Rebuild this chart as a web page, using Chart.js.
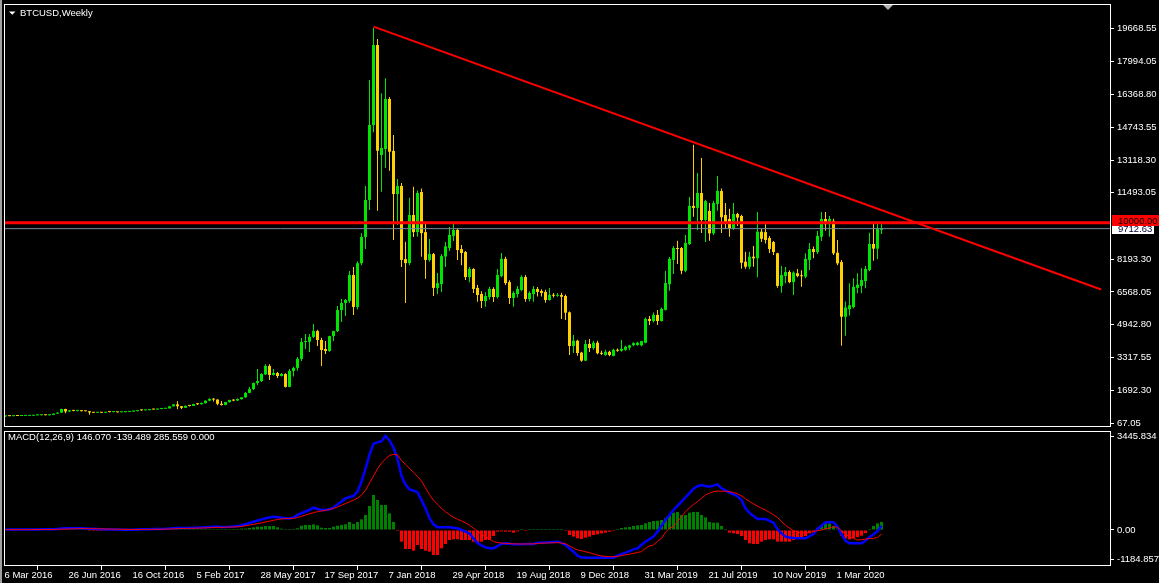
<!DOCTYPE html>
<html>
<head>
<meta charset="utf-8">
<title>BTCUSD,Weekly</title>
<script src="https://cdn.jsdelivr.net/npm/chart.js@4.4.0/dist/chart.umd.min.js"></script>
<style>
  html, body { margin: 0; padding: 0; background: #000; }
  #wrap { position: relative; width: 1159px; height: 583px; overflow: hidden; background: #000; }
  #frame { position: absolute; left: 0; top: 0; width: 2px; height: 583px; background: #a0a0a0; }
  #price { position: absolute; left: 0; top: 0; }
  #macd { position: absolute; left: 0; top: 429px; }
</style>
</head>
<body>
<div id="wrap">
  <div id="frame"></div>
  <canvas id="price" width="1159" height="429"></canvas>
  <canvas id="macd" width="1159" height="154"></canvas>
</div>
<script>
// weekly BTCUSD candles, first bar = week of 6 Mar 2016
const opens = [
  398,412,408,416,414,420,422,428,450,455, 460,452,470,530,580,760,640,695,670,680,
  655,650,590,575,580,575,610,608,610,600, 608,617,640,655,700,695,705,740,735,765,
  775,790,895,990,900,820,920,915,1010,1000, 1050,1175,1260,1230,1020,960,1100,1210,1180,1250,
  1340,1560,1750,2050,2150,2480,2900,2450,2550,2400, 2500,1860,2650,2800,3250,4085,4100,4340,4630,4185,
  3740,3640,4380,4630,5675,6020,6120,7413,5824,7998, 9300,11135,14856,18826,13366,13665,16147,13570,11430,11830,
  8200,8000,10390,9540,11530,9540,8160,8450,6770,6960, 8330,8750,9350,9650,8700,8550,7310,7710,6770,6470,
  6120,6320,6720,6320,7360,8210,7060,6270,6470,6670, 7310,6220,6470,6720,6620,6570,6170,6420,6380,6420,
  6370,5560,3890,4150,3560,3160,3990,3790,4050,3550, 3440,3600,3400,3700,3650,3700,3800,3930,3940,3920,
  4050,5230,5130,5430,5130,5680,6960,8160,8750,8750, 7620,8950,10840,10740,11480,10140,10590,9480,10940,11580,
  10390,10190,9740,10440,10340,8070,7820,8320,8240,9560, 9540,9250,9050,8490,6870,7360,7560,7060,7500,7400,
  7330,8160,8700,8550,9310,10190,9930,10100,8520,8060, 5340,5710,5820,6770,6870,7110,7660,8950,8720,9650
];
const highs = [
  420,422,420,425,425,428,432,455,468,465, 465,480,540,600,780,775,700,705,690,690,
  665,660,600,595,590,615,625,612,612,612, 620,645,660,705,720,715,750,755,770,780,
  795,900,1000,1150,910,930,930,1020,1050,1080, 1190,1300,1290,1250,1160,1120,1220,1240,1280,1350,
  1600,1870,2080,2750,2530,2980,2980,2750,2600,2550, 2540,2750,2860,3340,4285,4480,4480,4980,4700,4300,
  4140,4400,4650,5874,6220,6220,7610,7810,8100,9480, 11830,17090,19668.55,19125,16430,17170,16250,14360,12180,11980,
  9066,11250,11790,11600,11710,9940,9200,8500,7510,8450, 9050,9790,9990,9750,8900,8600,7810,7750,6920,6600,
  6550,6830,6800,7710,8500,8320,7150,6600,6870,7400, 7410,6600,6870,6820,6700,6680,6770,6520,6520,6530,
  6450,5600,4430,4200,3600,4190,4240,4150,4150,3650, 3700,3650,3750,3760,4190,3900,3950,4080,4100,4150,
  5300,5380,5550,5680,5800,7620,8300,8850,9110,8800, 9400,11280,13870,12470,13220,11150,10980,11100,12330,11700,
  10980,10700,10980,10500,10400,8570,8570,8850,10540,9700, 9930,9350,9100,8520,7860,7810,7650,7600,7710,7650,
  8490,9000,8820,9600,10540,10540,10340,10200,9150,8150, 6100,7000,7250,7500,7750,7860,9510,10000,10000,9980
];
const lows = [
  382,405,400,410,412,415,418,425,445,440, 448,435,460,520,575,550,620,645,640,640,
  645,480,560,565,565,570,600,600,590,595, 605,612,630,650,680,690,700,720,730,755,
  770,785,885,750,760,815,880,910,960,980, 1040,1150,1140,950,940,950,1080,1150,1160,1230,
  1320,1540,1700,1950,2100,2450,2200,2420,2300,2380, 1830,1840,2370,2660,3140,3740,3590,4285,3890,2900,
  3490,3600,4140,4583,5080,5380,6020,5425,5700,7900, 8700,10640,14500,10600,11540,12720,12590,9150,9890,7810,
  6020,7900,9300,9310,8320,7230,8070,6370,6470,6570, 7810,8600,9100,8160,7900,7160,7050,6520,6090,5770,
  5840,6200,6070,6250,7300,6920,5970,5840,6300,6600, 6090,6100,6090,6340,6340,6040,6140,6300,6330,5230,
  5180,3440,3540,3400,3110,3150,3590,3700,3480,3440, 3400,3380,3380,3600,3600,3650,3680,3880,3900,3880,
  4020,4930,5050,4930,5100,5650,6630,7460,7960,7450, 7550,8900,10300,9640,9490,9050,9110,9400,10600,9490,
  9700,9310,9650,9840,7720,7720,7700,7820,7300,9050, 8980,8500,8400,6780,6530,7000,7000,6420,7300,6830,
  7250,7660,8240,8450,9100,9610,9310,8400,7900,3900, 4400,5400,5750,6500,6500,6750,7600,8120,8190,9450
];
const closes = [
  412,408,416,414,420,422,428,450,455,460, 452,470,530,580,760,640,695,670,680,655,
  650,590,575,580,575,610,608,610,600,608, 617,640,655,700,695,705,740,735,765,775,
  790,895,990,900,820,920,915,1010,1000,1060, 1175,1260,1230,1020,960,1110,1210,1180,1260,1340,
  1560,1750,2050,2150,2500,2900,2450,2550,2400,2500, 1860,2650,2800,3250,4085,4100,4340,4630,4185,3690,
  3640,4380,4630,5675,6020,6170,7413,5824,7998,9300, 11135,14856,18826,13580,13715,16147,13530,11430,11830,8160,
  8000,10390,9540,11480,9490,8160,8450,6770,7010,8350, 8830,9400,9650,8650,8500,7310,7710,6720,6420,6120,
  6370,6720,6320,7410,8210,7010,6270,6520,6720,7310, 6220,6520,6720,6570,6520,6170,6420,6380,6420,6330,
  5540,3890,4150,3540,3160,3990,3790,4050,3530,3500, 3600,3440,3700,3650,3750,3850,3920,4030,4050,4130,
  5230,5130,5430,5130,5730,7010,8210,8750,8700,7620, 9000,10840,10740,11480,10140,11080,9480,10980,11580,10280,
  9980,9740,10440,10260,8020,7820,8320,8240,9560,9210, 9150,8700,8550,6870,7410,7560,7060,7530,7360,7350,
  8210,8700,8550,9350,10190,9930,10190,8490,7990,5340, 5800,5910,6820,6930,7160,7710,8950,8720,9730,9712.63
];

// MACD(12,26,9): main line, signal line, histogram
const macdMain = [
  15,15,14,14,14,14,15,17,20,22, 22,24,30,38,55,60,62,62,61,58,
  55,48,40,33,27,24,20,17,14,11, 10,11,13,17,22,25,29,32,35,38,
  41,50,65,70,68,70,72,78,82,88, 96,105,112,110,105,108,112,120,140,170,
  205,245,290,335,370,410,440,465,450,430, 410,405,440,520,590,650,705,785,740,705,
  700,730,780,900,1000,1110,1160,1200,1350,1700, 2150,2650,3030,3080,3120,3305,3150,2900,2500,1900,
  1600,1430,1380,1330,1050,760,420,200,100,95, 95,94,80,60,0,-60,-120,-300,-460,-540,
  -610,-640,-640,-570,-480,-470,-480,-500,-500,-500, -495,-495,-492,-450,-445,-440,-430,-420,-410,-450,
  -527,-650,-762,-900,-961,-973,-973,-973,-973,-973, -973,-973,-973,-902,-850,-797,-740,-680,-645,-520,
  -410,-320,-234,-59,150,352,530,703,850,996, 1150,1300,1450,1540,1582,1550,1523,1560,1606,1465,
  1390,1312,1250,1180,1050,762,600,492,387,387, 387,320,258,23,-120,-234,-260,-280,-293,-293,
  -293,-220,-141,35,150,270,270,270,117,-150, -380,-469,-469,-469,-469,-380,-255,-150,-40,146.07
];
const macdSignal = [
  12,13,13,13,13,13,14,14,15,16, 17,18,20,23,28,33,38,42,46,48,
  50,49,47,44,41,37,34,30,27,24, 21,19,18,18,19,20,22,24,26,29,
  31,35,41,47,51,55,58,62,66,70, 75,81,87,92,95,98,101,104,110,125,
  150,175,200,225,250,280,310,340,370,390, 400,405,410,440,480,527,570,610,645,670,
  690,720,760,810,870,930,990,1050,1120,1230, 1400,1650,1900,2150,2350,2500,2620,2660,2640,2450,
  2300,2168,2020,1880,1720,1480,1240,1050,900,760, 640,540,440,380,320,250,170,60,-40,-150,
  -234,-320,-410,-440,-460,-469,-478,-485,-490,-492, -492,-490,-485,-475,-465,-458,-452,-448,-445,-460,
  -480,-560,-640,-700,-730,-762,-800,-840,-880,-914, -925,-938,-938,-930,-900,-870,-850,-820,-790,-762,
  -650,-560,-527,-400,-293,-80,60,117,300,469, 650,780,900,1000,1113,1230,1300,1348,1371,1360,
  1365,1350,1320,1270,1200,1100,1000,920,840,760, 700,620,540,440,300,170,60,-20,-70,-100,
  -110,-90,-60,-20,0,40,70,117,90,-20, -150,-234,-290,-352,-340,-320,-300,-293,-264,-139.489
];
const macdHist = [
  3,2,1,1,1,1,1,3,5,6, 5,6,10,15,27,27,24,20,15,10,
  5,-1,-7,-11,-14,-13,-14,-13,-13,-13, -11,-8,-5,-1,3,5,7,8,9,9,
  10,15,24,23,17,15,14,16,16,18, 21,24,25,18,10,10,11,16,30,50,
  50,70,94,117,117,141,141,141,94,47, 23,23,23,59,152,176,176,199,164,82,
  70,70,117,152,176,199,281,211,281,375, 527,844,1231,1055,879,879,586,281,-20,-410,
  -668,-668,-727,-527,-668,-727,-762,-879,-879,-645, -492,-352,-328,-328,-352,-352,-352,-410,-469,-410,
  -352,-352,-211,-59,-47,-59,-59,-94,-47,10, -20,15,20,25,20,20,20,15,15,10,
  -35,-176,-234,-293,-316,-270,-234,-176,-152,-117, -94,-59,-35,35,70,94,105,141,164,176,
  234,281,316,328,352,410,516,609,633,527, 527,609,633,633,527,445,281,258,258,141,
  23,-94,-117,-141,-211,-352,-469,-492,-492,-410, -352,-328,-328,-410,-410,-410,-410,-352,-305,-305,
  -211,-117,-59,70,176,234,234,141,47,-200, -300,-330,-290,-250,-200,-110,35,141,234,285.559
];

const priceTicks = [67.05, 1692.30, 3317.55, 4942.80, 6568.05, 8193.30, 11493.05, 13118.30, 14743.55, 16368.80, 17994.05, 19668.55];
const macdTickValues = [3305, 0, -1020];
const macdTickText = ['3445.834', '0.00', '-1184.857'];
const dateTickIdx = [0, 16, 32, 48, 64, 80, 96, 112, 128, 144, 160, 176, 192, 208];
const dateLabels = ['6 Mar 2016', '26 Jun 2016', '16 Oct 2016', '5 Feb 2017', '28 May 2017', '17 Sep 2017',
  '7 Jan 2018', '29 Apr 2018', '19 Aug 2018', '9 Dec 2018', '31 Mar 2019', '21 Jul 2019', '10 Nov 2019', '1 Mar 2020'];

const levelPrice = 10000;
const bidPrice = 9712.63;
const trendX = [92, 273.9];
const trendY = [19740, 6690];

const chartTitle = 'BTCUSD,Weekly';
const macdTitle = 'MACD(12,26,9) 146.070 -139.489 285.559 0.000';

const upColor = '#00e600';
const downColor = '#ffd000';
const fontFamily = "'Liberation Sans', Arial, sans-serif";

Chart.defaults.font.family = fontFamily;
Chart.defaults.font.size = 9.5;
Chart.defaults.color = '#ffffff';

const xMin = -0.375, xMax = 276.125;

const candleColor = ctx => closes[ctx.dataIndex] >= opens[ctx.dataIndex] ? upColor : downColor;

const panelFrame = {
  id: 'panelFrame',
  afterDraw(chart) {
    const { ctx, chartArea: a } = chart;
    ctx.save();
    ctx.strokeStyle = '#ffffff';
    ctx.lineWidth = 1;
    ctx.strokeRect(a.left + 0.5, a.top + 0.5, a.right - a.left, a.bottom - a.top - 1);
    ctx.restore();
  }
};

const priceDecor = {
  id: 'priceDecor',
  afterDraw(chart) {
    const ctx = chart.ctx;
    const y = chart.scales.y;
    ctx.save();
    ctx.font = '9.5px ' + fontFamily;
    ctx.textBaseline = 'middle';
    // title
    ctx.fillStyle = '#ffffff';
    ctx.beginPath();
    ctx.moveTo(9, 11.5); ctx.lineTo(15.5, 11.5); ctx.lineTo(12.25, 14.75);
    ctx.closePath(); ctx.fill();
    ctx.fillText(chartTitle, 20, 13);
    // chart shift marker
    ctx.fillStyle = '#b4b4b4';
    ctx.beginPath();
    ctx.moveTo(883, 5); ctx.lineTo(893, 5); ctx.lineTo(888, 10);
    ctx.closePath(); ctx.fill();
    // bid label
    const bidY = Math.round(y.getPixelForValue(bidPrice));
    ctx.fillStyle = '#ffffff';
    ctx.fillRect(1112, bidY - 5, 42, 10);
    ctx.fillStyle = '#000033';
    ctx.fillText(bidPrice.toFixed(2), 1118, bidY + 0.5);
    // level label
    const lvY = Math.round(y.getPixelForValue(levelPrice));
    ctx.fillStyle = '#ff0000';
    ctx.fillRect(1112, lvY - 8, 47, 11);
    ctx.fillStyle = '#000000';
    ctx.fillText(levelPrice.toFixed(2), 1118, lvY - 2);
    ctx.restore();
  }
};

const macdDecor = {
  id: 'macdDecor',
  afterDraw(chart) {
    const ctx = chart.ctx;
    ctx.save();
    ctx.font = '9.5px ' + fontFamily;
    ctx.textBaseline = 'middle';
    ctx.fillStyle = '#ffffff';
    ctx.fillText(macdTitle, 8, 8.5);
    ctx.restore();
  }
};

const priceConfig = {
  type: 'bar',
  data: {
    datasets: [
      {
        type: 'line',
        data: [{ x: xMin, y: levelPrice }, { x: xMax, y: levelPrice }],
        borderColor: '#ff0000', borderWidth: 3, pointRadius: 0, order: 0
      },
      {
        type: 'line',
        data: trendX.map((x, i) => ({ x: x, y: trendY[i] })),
        borderColor: '#ff0000', borderWidth: 2, pointRadius: 0, order: 0
      },
      {
        type: 'line',
        data: [{ x: xMin, y: bidPrice }, { x: xMax, y: bidPrice }],
        borderColor: '#778899', borderWidth: 1, pointRadius: 0, order: 1
      },
      {
        data: opens.map((o, i) => ({ x: i, y: [o, closes[i]] })),
        backgroundColor: candleColor,
        barThickness: 3, minBarLength: 1, grouped: false, inflateAmount: 0, order: 2
      },
      {
        data: lows.map((l, i) => ({ x: i, y: [l, highs[i]] })),
        backgroundColor: candleColor,
        barThickness: 1, grouped: false, inflateAmount: 0, order: 3
      }
    ]
  },
  options: {
    responsive: false,
    animation: false,
    events: [],
    layout: { padding: { left: 4, top: 4, right: 0, bottom: 2 } },
    plugins: { legend: { display: false }, tooltip: { enabled: false } },
    scales: {
      x: { type: 'linear', display: false, min: xMin, max: xMax, offset: false },
      y: {
        position: 'right',
        min: -131.45,
        max: 20860,
        afterBuildTicks: axis => { axis.ticks = priceTicks.map(v => ({ value: v })); },
        afterFit: axis => { axis.width = 49; axis.paddingTop = 0; axis.paddingBottom = 0; },
        grid: { drawOnChartArea: false, drawTicks: true, tickLength: 4, color: '#ffffff' },
        border: { display: false },
        ticks: { color: '#ffffff', padding: 3, autoSkip: false, callback: v => Number(v).toFixed(2) }
      }
    }
  },
  plugins: [panelFrame, priceDecor]
};

const macdConfig = {
  type: 'bar',
  data: {
    datasets: [
      {
        type: 'line',
        data: macdSignal.map((v, i) => ({ x: i, y: v })),
        borderColor: '#ff0000', borderWidth: 1, pointRadius: 0, order: 0
      },
      {
        type: 'line',
        data: macdMain.map((v, i) => ({ x: i, y: v })),
        borderColor: '#0000ff', borderWidth: 2.5, pointRadius: 0, order: 1
      },
      {
        data: macdHist.map((v, i) => ({ x: i, y: v })),
        backgroundColor: ctx => macdHist[ctx.dataIndex] >= 0 ? '#008000' : '#ff0000',
        barThickness: 3, minBarLength: 1, grouped: false, inflateAmount: 0, order: 2
      }
    ]
  },
  options: {
    responsive: false,
    animation: false,
    events: [],
    layout: { padding: { left: 4, top: 2, right: 0, bottom: 0 } },
    plugins: { legend: { display: false }, tooltip: { enabled: false } },
    scales: {
      x: {
        type: 'linear', min: xMin, max: xMax, offset: false,
        afterBuildTicks: axis => { axis.ticks = dateTickIdx.map(v => ({ value: v })); },
        afterFit: axis => { axis.height = 17; axis.paddingLeft = 0; axis.paddingRight = 0; },
        grid: { drawOnChartArea: false, drawTicks: true, tickLength: 4, color: '#ffffff' },
        border: { display: false },
        ticks: {
          color: '#ffffff', padding: 0, align: 'start', labelOffset: -1,
          autoSkip: false, maxRotation: 0, minRotation: 0,
          callback: (v, i) => dateLabels[i]
        }
      },
      y: {
        position: 'right',
        min: -1265.8,
        max: 3480.8,
        afterBuildTicks: axis => { axis.ticks = macdTickValues.map(v => ({ value: v })); },
        afterFit: axis => { axis.width = 49; axis.paddingTop = 0; axis.paddingBottom = 0; },
        grid: { drawOnChartArea: false, drawTicks: true, tickLength: 4, color: '#ffffff' },
        border: { display: false },
        ticks: { color: '#ffffff', padding: 3, autoSkip: false, callback: (v, i) => macdTickText[i] }
      }
    }
  },
  plugins: [panelFrame, macdDecor]
};

new Chart(document.getElementById('price'), priceConfig);
new Chart(document.getElementById('macd'), macdConfig);
</script>
</body>
</html>
